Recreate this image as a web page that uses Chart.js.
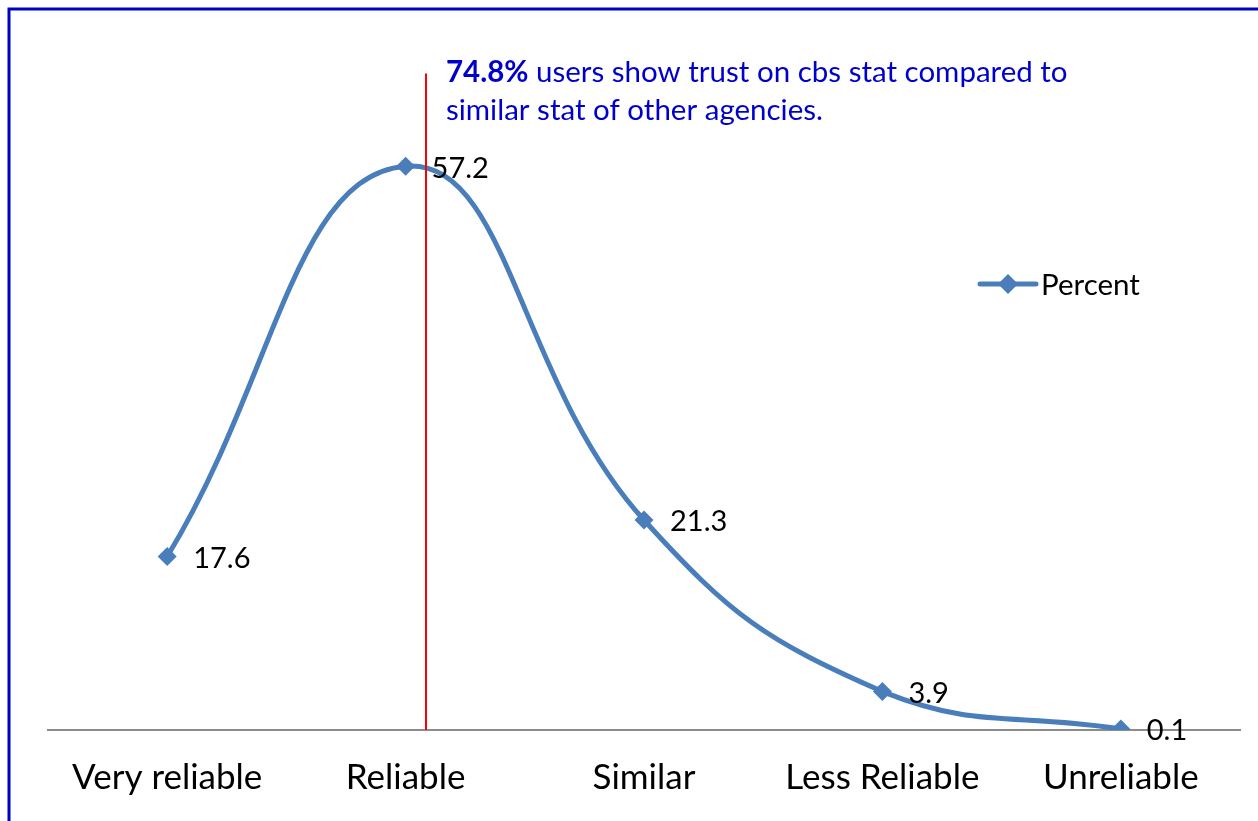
<!DOCTYPE html>
<html>
<head>
<meta charset="utf-8">
<script src="https://cdn.jsdelivr.net/npm/chart.js@4"></script>
<style>
  html, body { margin: 0; padding: 0; background: #fff; }
  #wrap { width: 1258px; height: 821px; position: relative; }
</style>
</head>
<body>
<div id="wrap"><canvas id="chart" width="1258" height="821"></canvas></div>
<script>
const categories = ["Very reliable", "Reliable", "Similar", "Less Reliable", "Unreliable"];
const percent = [17.6, 57.2, 21.3, 3.9, 0.1];
const seriesName = "Percent";
// note text (bold part + rest), split into the two lines as in the picture
const noteBold = "74.8%";
const noteLines = [" users show trust on cbs stat compared to", "similar stat of other agencies."];

const FONT = "Lato, 'Open Sans', sans-serif";
const lineColor = "#4A7EBB";

// frame, red marker line, note, value labels and legend
const extras = {
  id: "extras",
  afterDatasetsDraw(chart) {
    const ctx = chart.ctx;
    const x = chart.scales.x;
    const y = chart.scales.y;

    // blue frame (top and left edges visible)
    ctx.save();
    ctx.strokeStyle = "#0000CC";
    ctx.lineWidth = 3;
    ctx.beginPath();
    ctx.moveTo(9, chart.height);
    ctx.lineTo(9, 9);
    ctx.lineTo(chart.width, 9);
    ctx.stroke();

    // red vertical line just right of "Reliable"
    const rx = Math.round(x.getPixelForValue(1.085));
    ctx.strokeStyle = "#FF0000";
    ctx.lineWidth = 2;
    ctx.beginPath();
    ctx.moveTo(rx, y.getPixelForValue(66.6));
    ctx.lineTo(rx, y.getPixelForValue(0));
    ctx.stroke();

    // note text
    ctx.fillStyle = "#0000CC";
    ctx.textBaseline = "middle";
    ctx.textAlign = "left";
    const nx = rx + 20;
    ctx.font = "bold 29.5px " + FONT;
    ctx.fillText(noteBold, nx, 72);
    const bw = ctx.measureText(noteBold).width;
    ctx.font = "29.5px " + FONT;
    ctx.fillText(noteLines[0], nx + bw, 72);
    ctx.fillText(noteLines[1], nx, 110);

    // value labels
    const meta = chart.getDatasetMeta(0);
    ctx.fillStyle = "#000";
    ctx.font = "29px " + FONT;
    meta.data.forEach((pt, i) => {
      ctx.fillText(String(percent[i]), pt.x + 26, pt.y + 2);
    });

    // legend
    const lx = 980, ly = 284;
    ctx.strokeStyle = lineColor;
    ctx.lineWidth = 5;
    ctx.lineCap = "round";
    ctx.beginPath();
    ctx.moveTo(lx, ly);
    ctx.lineTo(lx + 56, ly);
    ctx.stroke();
    ctx.fillStyle = lineColor;
    ctx.beginPath();
    ctx.moveTo(lx + 28, ly - 10);
    ctx.lineTo(lx + 38, ly);
    ctx.lineTo(lx + 28, ly + 10);
    ctx.lineTo(lx + 18, ly);
    ctx.closePath();
    ctx.fill();
    ctx.fillStyle = "#000";
    ctx.font = "29.5px " + FONT;
    ctx.fillText(seriesName, lx + 61, ly + 1);
    ctx.restore();
  }
};

new Chart(document.getElementById("chart"), {
  type: "line",
  data: {
    labels: categories,
    datasets: [{
      label: seriesName,
      data: percent,
      borderColor: lineColor,
      backgroundColor: lineColor,
      borderWidth: 5,
      tension: 0.45,
      pointStyle: "rectRot",
      pointRadius: 9.5,
      pointBorderWidth: 0,
      pointBackgroundColor: lineColor,
      fill: false
    }]
  },
  options: {
    responsive: false,
    animation: false,
    devicePixelRatio: 1,
    layout: { padding: { left: 48, right: 18, top: 40, bottom: 0 } },
    scales: {
      x: {
        offset: true,
        grid: { display: false, drawTicks: false },
        border: { display: true, color: "#8C8C8C", width: 2 },
        ticks: {
          color: "#000",
          font: { family: FONT, size: 35 },
          padding: 27,
          maxRotation: 0,
          autoSkip: false
        },
        afterFit(scale) { scale.height = 91; }
      },
      y: {
        display: false,
        min: 0,
        max: 70
      }
    },
    plugins: {
      legend: { display: false },
      tooltip: { enabled: false }
    }
  },
  plugins: [extras]
});
</script>
</body>
</html>
